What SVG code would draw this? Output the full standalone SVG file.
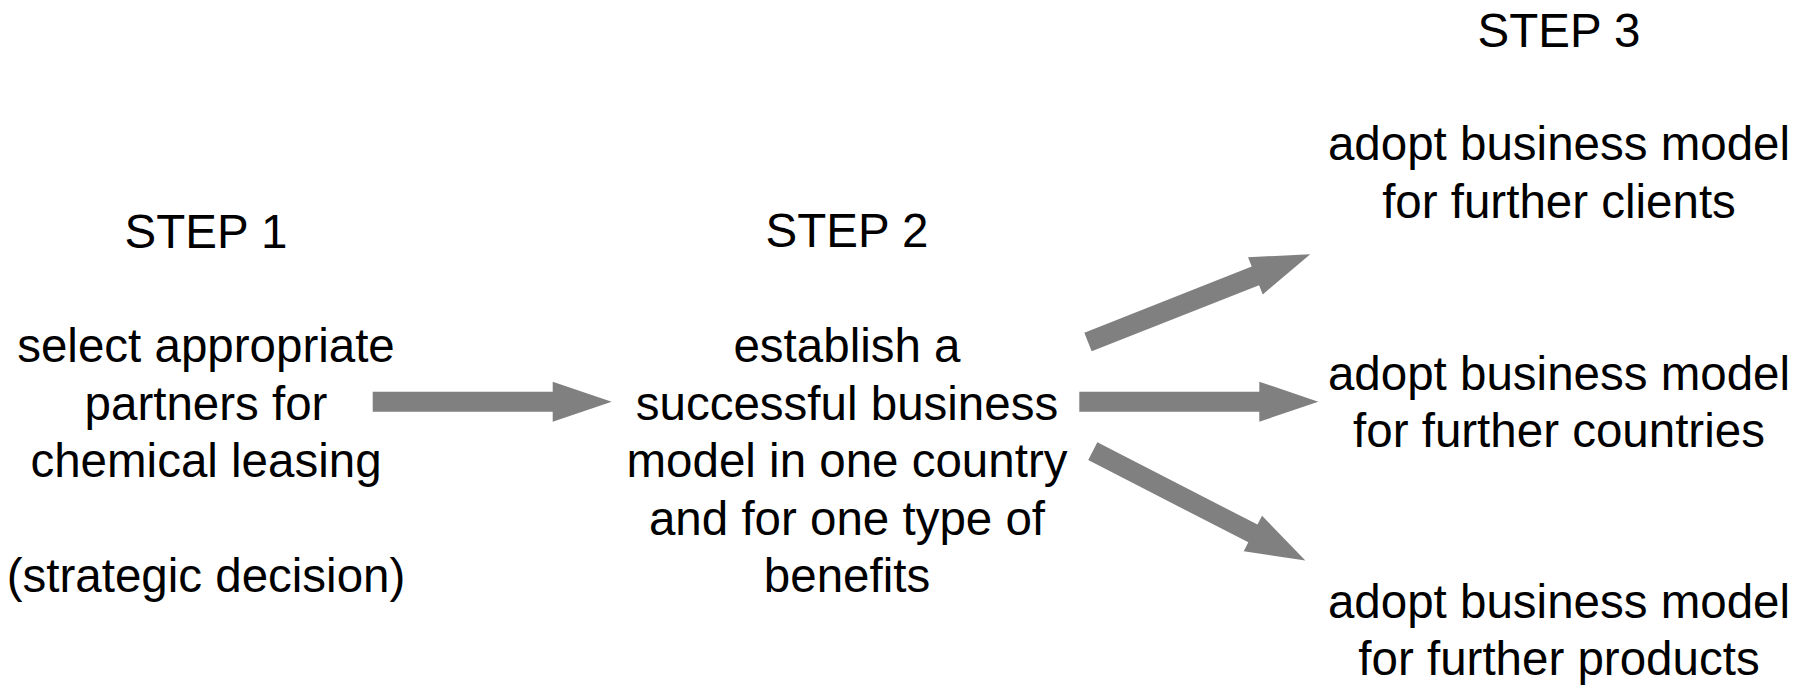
<svg xmlns="http://www.w3.org/2000/svg" width="1800" height="689" viewBox="0 0 1800 689">
<style>
text{font-family:"Liberation Sans",Arial,sans-serif;font-size:47.5px;fill:#000;text-anchor:middle}
.arrow{fill:#808080}
</style>
<defs>
<path id="arr" d="M0,-10 H180 V-20 L239,0 L180,20 V10 H0 Z"/>
</defs>
<rect width="1800" height="689" fill="#fff"/>
<g id="step1">
<text x="206" y="248">STEP 1</text>
<text x="206" y="362">select appropriate</text>
<text x="206" y="419.5">partners for</text>
<text x="206" y="477">chemical leasing</text>
<text x="206" y="592">(strategic decision)</text>
</g>
<g id="step2">
<text x="847" y="247">STEP 2</text>
<text x="847" y="362">establish a</text>
<text x="847" y="419.5">successful business</text>
<text x="847" y="477">model in one country</text>
<text x="847" y="534.5">and for one type of</text>
<text x="847" y="591.5">benefits</text>
</g>
<g id="step3">
<text x="1559" y="47">STEP 3</text>
</g>
<g id="clients">
<text x="1559" y="160">adopt business model</text>
<text x="1559" y="217.5">for further clients</text>
</g>
<g id="countries">
<text x="1559" y="390">adopt business model</text>
<text x="1559" y="447">for further countries</text>
</g>
<g id="products">
<text x="1559" y="618">adopt business model</text>
<text x="1559" y="675">for further products</text>
</g>
<g id="connectors" class="arrow">
<use href="#arr" transform="translate(372.7,401.7)"/>
<use href="#arr" transform="translate(1079.3,401.7)"/>
<use href="#arr" transform="translate(1088,342) rotate(-21.56)"/>
<use href="#arr" transform="translate(1092.8,451.2) rotate(27.2)"/>
</g>
</svg>
